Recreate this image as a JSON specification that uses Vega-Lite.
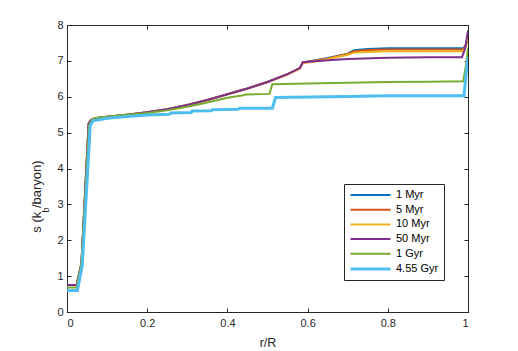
{
  "$schema": "https://vega.github.io/schema/vega-lite/v6.json",
  "width": 401,
  "height": 287,
  "autosize": "none",
  "padding": {"left": 67, "top": 25, "right": 50, "bottom": 39},
  "background": "white",
  "config": {
    "font": "Liberation Sans",
    "view": {"stroke": "#262626", "strokeWidth": 1},
    "axis": {
      "grid": false,
      "domain": false,
      "tickColor": "#262626",
      "tickSize": -4,
      "labelColor": "#262626",
      "labelFont": "Liberation Sans",
      "labelFontSize": 11,
      "titleFont": "Liberation Sans",
      "titleFontWeight": "normal",
      "titleColor": "#262626"
    },
    "legend": {
      "labelFont": "Liberation Sans",
      "labelFontSize": 11,
      "labelColor": "#000000"
    }
  },
  "data": {
    "values": [
      {"series": "1 Myr", "r": 0, "s": 0.75},
      {"series": "1 Myr", "r": 0.024, "s": 0.75},
      {"series": "1 Myr", "r": 0.036, "s": 1.35},
      {"series": "1 Myr", "r": 0.054, "s": 5.25},
      {"series": "1 Myr", "r": 0.06, "s": 5.35},
      {"series": "1 Myr", "r": 0.07, "s": 5.4},
      {"series": "1 Myr", "r": 0.1, "s": 5.44},
      {"series": "1 Myr", "r": 0.15, "s": 5.5},
      {"series": "1 Myr", "r": 0.2, "s": 5.57},
      {"series": "1 Myr", "r": 0.25, "s": 5.65},
      {"series": "1 Myr", "r": 0.3, "s": 5.77},
      {"series": "1 Myr", "r": 0.35, "s": 5.91},
      {"series": "1 Myr", "r": 0.4, "s": 6.07},
      {"series": "1 Myr", "r": 0.45, "s": 6.23},
      {"series": "1 Myr", "r": 0.5, "s": 6.41},
      {"series": "1 Myr", "r": 0.55, "s": 6.63},
      {"series": "1 Myr", "r": 0.581, "s": 6.8},
      {"series": "1 Myr", "r": 0.588, "s": 6.96},
      {"series": "1 Myr", "r": 0.62, "s": 7.02},
      {"series": "1 Myr", "r": 0.65, "s": 7.08},
      {"series": "1 Myr", "r": 0.68, "s": 7.15},
      {"series": "1 Myr", "r": 0.7, "s": 7.2},
      {"series": "1 Myr", "r": 0.716, "s": 7.3},
      {"series": "1 Myr", "r": 0.75, "s": 7.33},
      {"series": "1 Myr", "r": 0.8, "s": 7.35},
      {"series": "1 Myr", "r": 0.9, "s": 7.35},
      {"series": "1 Myr", "r": 0.988, "s": 7.35},
      {"series": "1 Myr", "r": 0.995, "s": 7.45},
      {"series": "1 Myr", "r": 1.0, "s": 7.6},

      {"series": "5 Myr", "r": 0, "s": 0.75},
      {"series": "5 Myr", "r": 0.024, "s": 0.75},
      {"series": "5 Myr", "r": 0.036, "s": 1.35},
      {"series": "5 Myr", "r": 0.054, "s": 5.25},
      {"series": "5 Myr", "r": 0.06, "s": 5.35},
      {"series": "5 Myr", "r": 0.07, "s": 5.4},
      {"series": "5 Myr", "r": 0.1, "s": 5.44},
      {"series": "5 Myr", "r": 0.15, "s": 5.5},
      {"series": "5 Myr", "r": 0.2, "s": 5.57},
      {"series": "5 Myr", "r": 0.25, "s": 5.65},
      {"series": "5 Myr", "r": 0.3, "s": 5.77},
      {"series": "5 Myr", "r": 0.35, "s": 5.91},
      {"series": "5 Myr", "r": 0.4, "s": 6.07},
      {"series": "5 Myr", "r": 0.45, "s": 6.23},
      {"series": "5 Myr", "r": 0.5, "s": 6.41},
      {"series": "5 Myr", "r": 0.55, "s": 6.63},
      {"series": "5 Myr", "r": 0.581, "s": 6.8},
      {"series": "5 Myr", "r": 0.588, "s": 6.95},
      {"series": "5 Myr", "r": 0.62, "s": 7.01},
      {"series": "5 Myr", "r": 0.65, "s": 7.07},
      {"series": "5 Myr", "r": 0.68, "s": 7.14},
      {"series": "5 Myr", "r": 0.7, "s": 7.19},
      {"series": "5 Myr", "r": 0.716, "s": 7.27},
      {"series": "5 Myr", "r": 0.75, "s": 7.3},
      {"series": "5 Myr", "r": 0.8, "s": 7.32},
      {"series": "5 Myr", "r": 0.9, "s": 7.32},
      {"series": "5 Myr", "r": 0.988, "s": 7.32},
      {"series": "5 Myr", "r": 0.995, "s": 7.45},
      {"series": "5 Myr", "r": 1.0, "s": 7.75},

      {"series": "10 Myr", "r": 0, "s": 0.75},
      {"series": "10 Myr", "r": 0.024, "s": 0.75},
      {"series": "10 Myr", "r": 0.036, "s": 1.35},
      {"series": "10 Myr", "r": 0.054, "s": 5.25},
      {"series": "10 Myr", "r": 0.06, "s": 5.35},
      {"series": "10 Myr", "r": 0.07, "s": 5.4},
      {"series": "10 Myr", "r": 0.1, "s": 5.44},
      {"series": "10 Myr", "r": 0.15, "s": 5.5},
      {"series": "10 Myr", "r": 0.2, "s": 5.57},
      {"series": "10 Myr", "r": 0.25, "s": 5.65},
      {"series": "10 Myr", "r": 0.3, "s": 5.77},
      {"series": "10 Myr", "r": 0.35, "s": 5.91},
      {"series": "10 Myr", "r": 0.4, "s": 6.07},
      {"series": "10 Myr", "r": 0.45, "s": 6.23},
      {"series": "10 Myr", "r": 0.5, "s": 6.41},
      {"series": "10 Myr", "r": 0.55, "s": 6.62},
      {"series": "10 Myr", "r": 0.581, "s": 6.78},
      {"series": "10 Myr", "r": 0.588, "s": 6.93},
      {"series": "10 Myr", "r": 0.62, "s": 6.99},
      {"series": "10 Myr", "r": 0.65, "s": 7.05},
      {"series": "10 Myr", "r": 0.68, "s": 7.12},
      {"series": "10 Myr", "r": 0.7, "s": 7.17},
      {"series": "10 Myr", "r": 0.716, "s": 7.23},
      {"series": "10 Myr", "r": 0.75, "s": 7.25},
      {"series": "10 Myr", "r": 0.8, "s": 7.27},
      {"series": "10 Myr", "r": 0.9, "s": 7.27},
      {"series": "10 Myr", "r": 0.988, "s": 7.27},
      {"series": "10 Myr", "r": 0.995, "s": 7.4},
      {"series": "10 Myr", "r": 1.0, "s": 7.7},

      {"series": "50 Myr", "r": 0, "s": 0.75},
      {"series": "50 Myr", "r": 0.024, "s": 0.75},
      {"series": "50 Myr", "r": 0.036, "s": 1.35},
      {"series": "50 Myr", "r": 0.054, "s": 5.25},
      {"series": "50 Myr", "r": 0.06, "s": 5.35},
      {"series": "50 Myr", "r": 0.07, "s": 5.4},
      {"series": "50 Myr", "r": 0.1, "s": 5.44},
      {"series": "50 Myr", "r": 0.15, "s": 5.5},
      {"series": "50 Myr", "r": 0.2, "s": 5.57},
      {"series": "50 Myr", "r": 0.25, "s": 5.65},
      {"series": "50 Myr", "r": 0.3, "s": 5.77},
      {"series": "50 Myr", "r": 0.35, "s": 5.91},
      {"series": "50 Myr", "r": 0.4, "s": 6.07},
      {"series": "50 Myr", "r": 0.45, "s": 6.23},
      {"series": "50 Myr", "r": 0.5, "s": 6.41},
      {"series": "50 Myr", "r": 0.55, "s": 6.63},
      {"series": "50 Myr", "r": 0.581, "s": 6.8},
      {"series": "50 Myr", "r": 0.588, "s": 6.96},
      {"series": "50 Myr", "r": 0.65, "s": 7.02},
      {"series": "50 Myr", "r": 0.7, "s": 7.05},
      {"series": "50 Myr", "r": 0.8, "s": 7.09},
      {"series": "50 Myr", "r": 0.9, "s": 7.1},
      {"series": "50 Myr", "r": 0.985, "s": 7.1},
      {"series": "50 Myr", "r": 0.993, "s": 7.35},
      {"series": "50 Myr", "r": 1.0, "s": 7.85},

      {"series": "1 Gyr", "r": 0, "s": 0.68},
      {"series": "1 Gyr", "r": 0.024, "s": 0.68},
      {"series": "1 Gyr", "r": 0.036, "s": 1.33},
      {"series": "1 Gyr", "r": 0.055, "s": 5.2},
      {"series": "1 Gyr", "r": 0.062, "s": 5.35},
      {"series": "1 Gyr", "r": 0.07, "s": 5.4},
      {"series": "1 Gyr", "r": 0.1, "s": 5.44},
      {"series": "1 Gyr", "r": 0.15, "s": 5.5},
      {"series": "1 Gyr", "r": 0.2, "s": 5.55},
      {"series": "1 Gyr", "r": 0.25, "s": 5.62},
      {"series": "1 Gyr", "r": 0.3, "s": 5.72},
      {"series": "1 Gyr", "r": 0.35, "s": 5.84},
      {"series": "1 Gyr", "r": 0.4, "s": 5.97},
      {"series": "1 Gyr", "r": 0.44, "s": 6.04},
      {"series": "1 Gyr", "r": 0.445, "s": 6.06},
      {"series": "1 Gyr", "r": 0.505, "s": 6.08},
      {"series": "1 Gyr", "r": 0.512, "s": 6.35},
      {"series": "1 Gyr", "r": 0.6, "s": 6.37},
      {"series": "1 Gyr", "r": 0.7, "s": 6.39},
      {"series": "1 Gyr", "r": 0.8, "s": 6.41},
      {"series": "1 Gyr", "r": 0.9, "s": 6.42},
      {"series": "1 Gyr", "r": 0.988, "s": 6.43},
      {"series": "1 Gyr", "r": 0.996, "s": 6.95},
      {"series": "1 Gyr", "r": 1.0, "s": 7.35},

      {"series": "4.55 Gyr", "r": 0, "s": 0.6},
      {"series": "4.55 Gyr", "r": 0.026, "s": 0.6},
      {"series": "4.55 Gyr", "r": 0.038, "s": 1.3},
      {"series": "4.55 Gyr", "r": 0.058, "s": 5.2},
      {"series": "4.55 Gyr", "r": 0.065, "s": 5.33},
      {"series": "4.55 Gyr", "r": 0.1, "s": 5.4},
      {"series": "4.55 Gyr", "r": 0.15, "s": 5.45},
      {"series": "4.55 Gyr", "r": 0.2, "s": 5.49},
      {"series": "4.55 Gyr", "r": 0.255, "s": 5.51},
      {"series": "4.55 Gyr", "r": 0.26, "s": 5.55},
      {"series": "4.55 Gyr", "r": 0.31, "s": 5.56},
      {"series": "4.55 Gyr", "r": 0.312, "s": 5.6},
      {"series": "4.55 Gyr", "r": 0.36, "s": 5.61},
      {"series": "4.55 Gyr", "r": 0.362, "s": 5.64},
      {"series": "4.55 Gyr", "r": 0.427, "s": 5.65},
      {"series": "4.55 Gyr", "r": 0.43, "s": 5.68},
      {"series": "4.55 Gyr", "r": 0.512, "s": 5.68},
      {"series": "4.55 Gyr", "r": 0.52, "s": 5.98},
      {"series": "4.55 Gyr", "r": 0.7, "s": 6.01},
      {"series": "4.55 Gyr", "r": 0.8, "s": 6.03},
      {"series": "4.55 Gyr", "r": 0.99, "s": 6.03},
      {"series": "4.55 Gyr", "r": 0.995, "s": 6.6},
      {"series": "4.55 Gyr", "r": 1.0, "s": 7.1}
    ]
  },
  "layer": [
    {
      "mark": {"type": "line", "clip": true},
      "encoding": {
        "x": {
          "field": "r", "type": "quantitative",
          "scale": {"domain": [0, 1], "nice": false, "zero": false},
          "axis": {
            "orient": "bottom",
            "values": [0, 0.2, 0.4, 0.6, 0.8, 1],
            "format": "~g",
            "labelPadding": 9,
            "title": "r/R",
            "titleFontSize": 12.5,
            "titleY": 30,
            "titleBaseline": "middle"
          }
        },
        "y": {
          "field": "s", "type": "quantitative",
          "scale": {"domain": [0, 8], "nice": false, "zero": false},
          "axis": {
            "orient": "left",
            "values": [0, 1, 2, 3, 4, 5, 6, 7, 8],
            "format": "d",
            "labelPadding": 8,
            "title": "s (k  /baryon)",
            "titleFontSize": 13,
            "titleAngle": -90,
            "titleAlign": "center",
            "titleBaseline": "middle",
            "titleX": -31,
            "titleY": 171
          }
        },
        "color": {
          "field": "series", "type": "nominal",
          "scale": {
            "domain": ["1 Myr", "5 Myr", "10 Myr", "50 Myr", "1 Gyr", "4.55 Gyr"],
            "range": ["#0072BD", "#D95319", "#EDB120", "#7E2F8E", "#77AC30", "#4DBEEE"]
          },
          "legend": {
            "title": null,
            "orient": "none",
            "legendX": 277,
            "legendY": 159,
            "strokeColor": "#262626",
            "fillColor": "white",
            "padding": 5,
            "symbolType": "M-1,0H7",
            "symbolSize": 100,
            "symbolStrokeWidth": 2,
            "labelOffset": 34,
            "rowPadding": 3.7
          }
        },
        "strokeWidth": {
          "field": "series", "type": "nominal",
          "scale": {
            "type": "ordinal",
            "domain": ["1 Myr", "5 Myr", "10 Myr", "50 Myr", "1 Gyr", "4.55 Gyr"],
            "range": [2, 2, 2, 2, 2, 3]
          },
          "legend": null
        }
      }
    },
    {
      "mark": {"type": "line", "opacity": 0},
      "encoding": {
        "x": {
          "field": "r", "type": "quantitative",
          "scale": {"domain": [0, 1], "nice": false, "zero": false},
          "axis": {"orient": "top", "values": [0, 0.2, 0.4, 0.6, 0.8, 1], "labels": false, "title": null}
        },
        "y": {
          "field": "s", "type": "quantitative",
          "scale": {"domain": [0, 8], "nice": false, "zero": false},
          "axis": {"orient": "right", "values": [0, 1, 2, 3, 4, 5, 6, 7, 8], "labels": false, "title": null}
        }
      }
    },
    {
      "mark": {"type": "line", "opacity": 0},
      "encoding": {
        "x": {"field": "r", "type": "quantitative", "scale": {"domain": [0, 1], "nice": false, "zero": false}, "axis": null},
        "y": {
          "field": "s", "type": "quantitative",
          "scale": {"domain": [0, 8], "nice": false, "zero": false},
          "axis": {
            "orient": "left",
            "ticks": false,
            "labels": false,
            "title": "b",
            "titleFontSize": 9,
            "titleAngle": -90,
            "titleAlign": "center",
            "titleBaseline": "middle",
            "titleX": -22,
            "titleY": 184.5
          }
        }
      }
    }
  ],
  "resolve": {"axis": {"x": "independent", "y": "independent"}}
}
